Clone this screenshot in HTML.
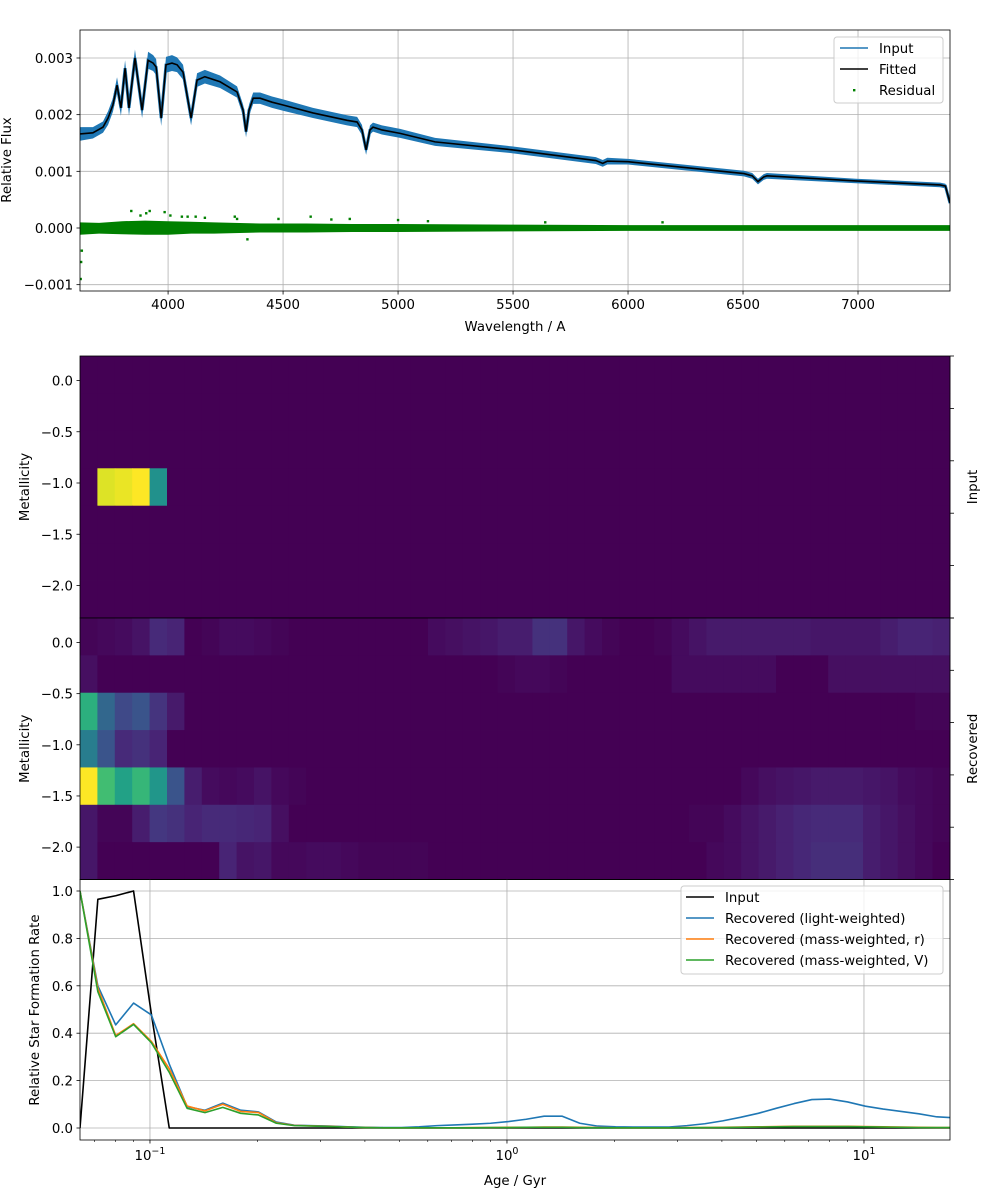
<!DOCTYPE html>
<html><head><meta charset="utf-8"><style>
body{margin:0;background:#fff}
svg{display:block;font-family:"DejaVu Sans","Liberation Sans",sans-serif}
</style></head><body>
<svg id="fig" width="1000" height="1200" viewBox="0 0 1000 1200"></svg>
<script>
// ---------- data ----------
const specLambda=[3617,3673,3717,3739,3760,3778,3795,3813,3830,3856,3887,3913,3935,3948,3970,3991,4017,4039,4065,4100,4126,4160,4226,4300,4326,4339,4352,4370,4400,4452,4500,4630,4778,4822,4843,4861,4878,4891,4930,5009,5161,5496,5860,5890,5910,6000,6504,6540,6565,6590,6604,6991,7357,7380,7400];
const specFitted=[0.00166,0.00168,0.00178,0.00194,0.00217,0.00252,0.00212,0.00282,0.00212,0.0030,0.00208,0.00296,0.00291,0.00284,0.00194,0.00288,0.00291,0.00288,0.00275,0.00194,0.00261,0.00267,0.00258,0.0024,0.00208,0.0017,0.00208,0.00229,0.00229,0.00222,0.00217,0.00203,0.0019,0.00187,0.00173,0.00138,0.00173,0.00178,0.00173,0.00167,0.00152,0.00138,0.00119,0.00114,0.00118,0.00117,0.00096,0.00092,0.00082,0.0009,0.00092,0.00083,0.00076,0.00074,0.00044];
const inputNoise=[0.00012,0.0001,0.0001,0.00012,0.00012,0.00014,0.00014,0.00014,0.00014,0.00015,0.00014,0.00015,0.00014,0.00014,0.00014,0.00014,0.00014,0.00013,0.00013,0.00013,0.00012,0.00012,0.00011,0.0001,0.0001,0.0001,0.0001,0.0001,0.0001,0.0001,0.0001,0.00009,0.00009,0.00009,0.00009,0.00009,0.00008,0.00008,0.00008,0.00008,0.00007,0.00006,0.00006,0.00006,0.00006,0.00005,0.00005,0.00005,0.00005,0.00005,0.00005,0.00004,0.00004,0.00004,0.00004];
const resLambda=[3617,3700,3800,3900,4000,4100,4200,4400,4600,4800,5000,5500,6000,6500,7000,7400];
const resHi=[0.0001,0.00009,0.00012,0.00013,0.00012,0.00011,0.0001,0.00008,0.00008,0.00007,0.00007,0.00006,0.00005,0.00005,0.00005,0.00005];
const resLo=[-0.00012,-0.0001,-0.00011,-0.00012,-0.00012,-0.0001,-0.0001,-0.00008,-0.00008,-0.00007,-0.00007,-0.00006,-0.00005,-0.00005,-0.00005,-0.00005];
const resOutLambda=[3620,3622,3625,3840,3880,3905,3920,3985,4010,4060,4085,4120,4160,4290,4300,4345,4480,4620,4710,4790,5000,5130,5640,6150];
const resOutValue=[-0.0009,-0.0006,-0.0004,0.0003,0.00022,0.00026,0.0003,0.00028,0.00022,0.0002,0.0002,0.0002,0.00018,0.0002,0.00016,-0.0002,0.00016,0.0002,0.00015,0.00016,0.00014,0.00012,0.0001,0.0001];
const yTicksSpec=[-0.001,0.000,0.001,0.002,0.003];
const yTickSpecLabels=["\u22120.001","0.000","0.001","0.002","0.003"];
const xTicksSpec=[4000,4500,5000,5500,6000,6500,7000];

const inputGrid=[
 new Array(50).fill(0),new Array(50).fill(0),new Array(50).fill(0),
 [0,0.95,0.97,1.0,0.5].concat(new Array(45).fill(0)),
 new Array(50).fill(0),new Array(50).fill(0),new Array(50).fill(0)];
const recRow0=[0.01,0.02,0.03,0.05,0.12,0.10,0,0.01,0.03,0.03,0.02,0.01,0,0,0,0,0,0,0,0,0.03,0.04,0.05,0.06,0.08,0.08,0.14,0.14,0.06,0.03,0.01,0,0,0.01,0.03,0.05,0.07,0.07,0.07,0.07,0.07,0.07,0.06,0.06,0.06,0.06,0.08,0.10,0.10,0.09];
const recRow1=[0.04].concat(new Array(23).fill(0),[0.01,0.02,0.02,0.01],new Array(6).fill(0),new Array(6).fill(0.03),[0,0,0],new Array(7).fill(0.04));
const recRow2=[0.63,0.33,0.22,0.26,0.15,0.07].concat(new Array(42).fill(0),[0.01,0.01]);
const recRow3=[0.42,0.26,0.12,0.14,0.10].concat(new Array(45).fill(0));
const recRow4=[1,0.69,0.57,0.66,0.52,0.26,0.08,0.03,0.02,0.03,0.05,0.02,0.01].concat(new Array(25).fill(0),[0.02,0.04,0.05,0.06,0.07,0.07,0.07,0.06,0.05,0.03,0.02,0.01]);
const recRow5=[0.06,0.01,0.01,0.08,0.16,0.14,0.10,0.12,0.12,0.11,0.10,0.04].concat(new Array(23).fill(0),[0.01,0.01,0.03,0.05,0.07,0.09,0.11,0.12,0.12,0.12,0.08,0.06,0.04,0.02,0.01]);
const recRow6=[0.06,0,0,0,0,0,0,0,0.10,0.05,0.06,0.02,0.02,0.03,0.03,0.02,0.01,0.01,0.01,0.01].concat(new Array(16).fill(0),[0.02,0.03,0.05,0.07,0.09,0.11,0.13,0.13,0.13,0.08,0.06,0.04,0.02,0.0]);
const recGrid=[recRow0,recRow1,recRow2,recRow3,recRow4,recRow5,recRow6];
const metTicks=[0.0,-0.5,-1.0,-1.5,-2.0];
const metTickLabels=["0.0","\u22120.5","\u22121.0","\u22121.5","\u22122.0"];

const logAgeStart=-1.196, logAgeStep=0.05;
const sfrAges=[]; for(let i=0;i<50;i++) sfrAges.push(Math.pow(10,logAgeStart+i*logAgeStep));
const sfrInput=[0,0.965,0.98,1.0,0.48].concat(new Array(45).fill(0));
const sfrLight=[1.0,0.60,0.435,0.527,0.477,0.27,0.09,0.075,0.105,0.075,0.068,0.025,0.012,0.01,0.008,0.005,0.003,0.002,0.002,0.005,0.01,0.013,0.016,0.02,0.027,0.037,0.05,0.05,0.02,0.008,0.005,0.004,0.004,0.004,0.01,0.018,0.03,0.045,0.062,0.083,0.103,0.12,0.122,0.11,0.092,0.08,0.07,0.06,0.047,0.043];
const sfrMassR=[1.0,0.59,0.39,0.44,0.365,0.25,0.093,0.072,0.1,0.07,0.065,0.022,0.011,0.009,0.007,0.004,0.002,0.001,0.001,0.001,0.001,0.001,0.002,0.002,0.003,0.003,0.004,0.004,0.003,0.002,0.001,0.001,0.001,0.001,0.002,0.002,0.003,0.004,0.005,0.006,0.007,0.007,0.007,0.007,0.006,0.005,0.004,0.003,0.002,0.002];
const sfrMassV=[1.0,0.575,0.385,0.437,0.36,0.235,0.083,0.065,0.087,0.062,0.055,0.02,0.01,0.008,0.006,0.004,0.002,0.001,0.001,0.001,0.001,0.001,0.001,0.002,0.002,0.003,0.003,0.003,0.002,0.001,0.001,0.001,0.001,0.001,0.001,0.002,0.002,0.003,0.004,0.005,0.006,0.006,0.006,0.006,0.005,0.004,0.003,0.002,0.002,0.002];
const sfrYTicks=[0,0.2,0.4,0.6,0.8,1.0];
const sfrYTickLabels=["0.0","0.2","0.4","0.6","0.8","1.0"];
const sfrXMajor=[0.1,1,10];
const sfrXMajorExp=["\u22121","0","1"];
const sfrXMinor=[0.07,0.08,0.09,0.2,0.3,0.4,0.5,0.6,0.7,0.8,0.9,2,3,4,5,6,7,8,9];

// ---------- helpers ----------
const NS="http://www.w3.org/2000/svg";
const svg=document.getElementById('fig');
function mk(tag,attrs,parent){const e=document.createElementNS(NS,tag);for(const k in attrs)e.setAttribute(k,attrs[k]);(parent||svg).appendChild(e);return e;}
const X0=80,X1=950;
const sx=l=>X0+(l-3617)/(7400-3617)*870;
const sy=f=>228-f*56670;
const H1=356,H2=618,HB=879.5,colW=870/50;
const ax=a=>X0+(Math.log10(a)+1.196)*357;
const ay=v=>1128-v*237;
const P3T=879.5,P3B=1140;

const defs=mk('defs',{});
const cp1=mk('clipPath',{id:'c1'},defs);mk('rect',{x:X0,y:30,width:870,height:261},cp1);
const cp3=mk('clipPath',{id:'c3'},defs);mk('rect',{x:X0,y:P3T,width:870,height:P3B-P3T},cp3);

function viridis(t){
 const s=["#440154","#482475","#414487","#355f8d","#2a788e","#21918c","#22a884","#44bf70","#7ad151","#bddf26","#fde725"];
 t=Math.max(0,Math.min(1,t));const p=t*10,i=Math.min(9,Math.floor(p)),f=p-i;
 const a=s[i],b=s[i+1];const c=k=>Math.round(parseInt(a.substr(k,2),16)*(1-f)+parseInt(b.substr(k,2),16)*f);
 return `rgb(${c(1)},${c(3)},${c(5)})`;
}
function label(x,y,txt,anchor,opts){const t=mk('text',Object.assign({x:x,y:y,'font-size':13.3,'text-anchor':anchor||'middle',fill:'#000'},opts||{}));t.textContent=txt;return t;}

// ========== PANEL 1: spectrum ==========
const g1=mk('g',{});


xTicksSpec.forEach(v=>{const l=mk('line',{x1:sx(v),x2:sx(v),y1:30,y2:291,stroke:'#b0b0b0','stroke-width':0.8},g1);
 
 });
yTicksSpec.forEach(v=>{const l=mk('line',{x1:X0,x2:X1,y1:sy(v),y2:sy(v),stroke:'#b0b0b0','stroke-width':0.8},g1);
 
 });
const dg=mk('g',{'clip-path':'url(#c1)'},g1);
let up=specLambda.map((l,i)=>sx(l)+','+sy(specFitted[i]+inputNoise[i]));
let dn=specLambda.map((l,i)=>sx(l)+','+sy(specFitted[i]-inputNoise[i])).reverse();
const band=mk('polygon',{points:up.concat(dn).join(' '),fill:'#1f77b4'},dg);


const inLine=mk('polyline',{points:specLambda.map((l,i)=>sx(l)+','+sy(specFitted[i])).join(' '),fill:'none',stroke:'#1f77b4','stroke-width':3},dg);


const fitLine=mk('polyline',{points:specLambda.map((l,i)=>sx(l)+','+sy(specFitted[i])).join(' '),fill:'none',stroke:'#000','stroke-width':1.6},dg);


up=resLambda.map((l,i)=>sx(l)+','+sy(resHi[i]));
dn=resLambda.map((l,i)=>sx(l)+','+sy(resLo[i])).reverse();
const rb=mk('polygon',{points:up.concat(dn).join(' '),fill:'#008000'},dg);


resOutLambda.forEach((l,i)=>{const r=mk('rect',{x:sx(l)-1.2,y:sy(resOutValue[i])-1.2,width:2.4,height:2.4,fill:'#008000'},dg);
 
 });
const fr1=mk('rect',{x:X0,y:30,width:870,height:261,fill:'none',stroke:'#000','stroke-width':0.8},g1);


xTicksSpec.forEach(v=>{mk('line',{x1:sx(v),x2:sx(v),y1:291,y2:294.5,stroke:'#000','stroke-width':0.8},g1);
 const t=label(sx(v),309,String(v));
 
 });
yTicksSpec.forEach((v,i)=>{mk('line',{x1:X0-3.5,x2:X0,y1:sy(v),y2:sy(v),stroke:'#000','stroke-width':0.8},g1);
 const t=label(73,sy(v)+5,yTickSpecLabels[i],'end');
 
 });
let t=label(515,331,'Wavelength / A');


t=label(0,0,'Relative Flux','middle',{transform:'translate(11,160) rotate(-90)'});


const lg1=mk('g',{});


mk('rect',{x:834,y:37,width:109,height:66,rx:3,fill:'#fff','fill-opacity':0.8,stroke:'#ccc'},lg1);
[['Input','#1f77b4',48],['Fitted','#000',69]].forEach(e=>{mk('line',{x1:840,x2:868,y1:e[2],y2:e[2],stroke:e[1],'stroke-width':1.6},lg1);
 const tt=label(879,e[2]+5,e[0],'start');
 
 });
mk('rect',{x:853,y:89,width:2.4,height:2.4,fill:'#008000'},lg1);
t=label(879,95,'Residual','start');



// ========== HEATMAPS ==========
function heatmap(top,bottom,grid,name,rightLabel){
 const g=mk('g',{});
 
 
 const rh=(bottom-top)/7;
 grid.forEach((row,r)=>row.forEach((v,c)=>{
  const cell=mk('rect',{x:X0+c*colW,y:top+r*rh,width:colW+0.4,height:rh+0.4,fill:viridis(v)},g);
  
  
 }));
 mk('rect',{x:X0,y:top,width:870,height:bottom-top,fill:'none',stroke:'#000','stroke-width':0.8},g);
 metTicks.forEach((m,i)=>{const y=top+24.5-m*102.5*(bottom-top)/262;
  mk('line',{x1:X0-3.5,x2:X0,y1:y,y2:y,stroke:'#000','stroke-width':0.8},g);
  const tl=label(73,y+5,metTickLabels[i],'end');
  
  });
 for(let k=0;k<=5;k++){const y=top+k*(bottom-top)/5;mk('line',{x1:X1,x2:X1+4,y1:y,y2:y,stroke:'#000','stroke-width':0.8},g);}
 const mid=(top+bottom)/2;
 const yl=label(0,0,'Metallicity','middle',{transform:`translate(29,${mid}) rotate(-90)`});
 
 
 const rl=label(0,0,rightLabel,'middle',{transform:`translate(977,${mid}) rotate(-90)`});
 
 
}
heatmap(H1,H2,inputGrid,'input-heatmap','Input');
heatmap(H2,HB,recGrid,'recovered-heatmap','Recovered');

// ========== PANEL 3: SFR ==========
const g3=mk('g',{});


sfrXMajor.forEach(v=>{const l=mk('line',{x1:ax(v),x2:ax(v),y1:P3T,y2:P3B,stroke:'#b0b0b0','stroke-width':0.8},g3);
 
 });
sfrYTicks.forEach(v=>{const l=mk('line',{x1:X0,x2:X1,y1:ay(v),y2:ay(v),stroke:'#b0b0b0','stroke-width':0.8},g3);
 
 });
const dg3=mk('g',{'clip-path':'url(#c3)'},g3);
[[sfrInput,'#000','sfr-input-line'],[sfrLight,'#1f77b4','sfr-light-weighted-line'],[sfrMassR,'#ff7f0e','sfr-mass-weighted-r-line'],[sfrMassV,'#2ca02c','sfr-mass-weighted-v-line']].forEach(s=>{
 const pl=mk('polyline',{points:sfrAges.map((a,i)=>ax(a)+','+ay(s[0][i])).join(' '),fill:'none',stroke:s[1],'stroke-width':1.6,'stroke-linejoin':'round'},dg3);
 
 
});
mk('rect',{x:X0,y:P3T,width:870,height:P3B-P3T,fill:'none',stroke:'#000','stroke-width':0.8},g3);
sfrXMajor.forEach((v,i)=>{mk('line',{x1:ax(v),x2:ax(v),y1:P3B,y2:P3B+3.5,stroke:'#000','stroke-width':0.8},g3);
 const tl=mk('text',{x:ax(v),y:1160,'font-size':13.3,'text-anchor':'middle'},g3);
 
 
 const a=mk('tspan',{},tl);a.textContent='10';
 const b=mk('tspan',{'font-size':9.5,dy:-6},tl);b.textContent=sfrXMajorExp[i];});
sfrXMinor.forEach(v=>mk('line',{x1:ax(v),x2:ax(v),y1:P3B,y2:P3B+2,stroke:'#000','stroke-width':0.6},g3));
sfrYTicks.forEach((v,i)=>{mk('line',{x1:X0-3.5,x2:X0,y1:ay(v),y2:ay(v),stroke:'#000','stroke-width':0.8},g3);
 const tl=label(73,ay(v)+5,sfrYTickLabels[i],'end');
 
 });
t=label(515,1185,'Age / Gyr');


t=label(0,0,'Relative Star Formation Rate','middle',{transform:'translate(39,1010) rotate(-90)'});


const lg3=mk('g',{});


mk('rect',{x:681,y:886,width:262,height:88,rx:3,fill:'#fff','fill-opacity':0.8,stroke:'#ccc'},lg3);
[['Input','#000',897],['Recovered (light-weighted)','#1f77b4',918],['Recovered (mass-weighted, r)','#ff7f0e',939],['Recovered (mass-weighted, V)','#2ca02c',960]].forEach(e=>{
 mk('line',{x1:686,x2:714,y1:e[2],y2:e[2],stroke:e[1],'stroke-width':1.6},lg3);
 const tt=label(725,e[2]+5,e[0],'start');
 
 
});
</script>
</body></html>
